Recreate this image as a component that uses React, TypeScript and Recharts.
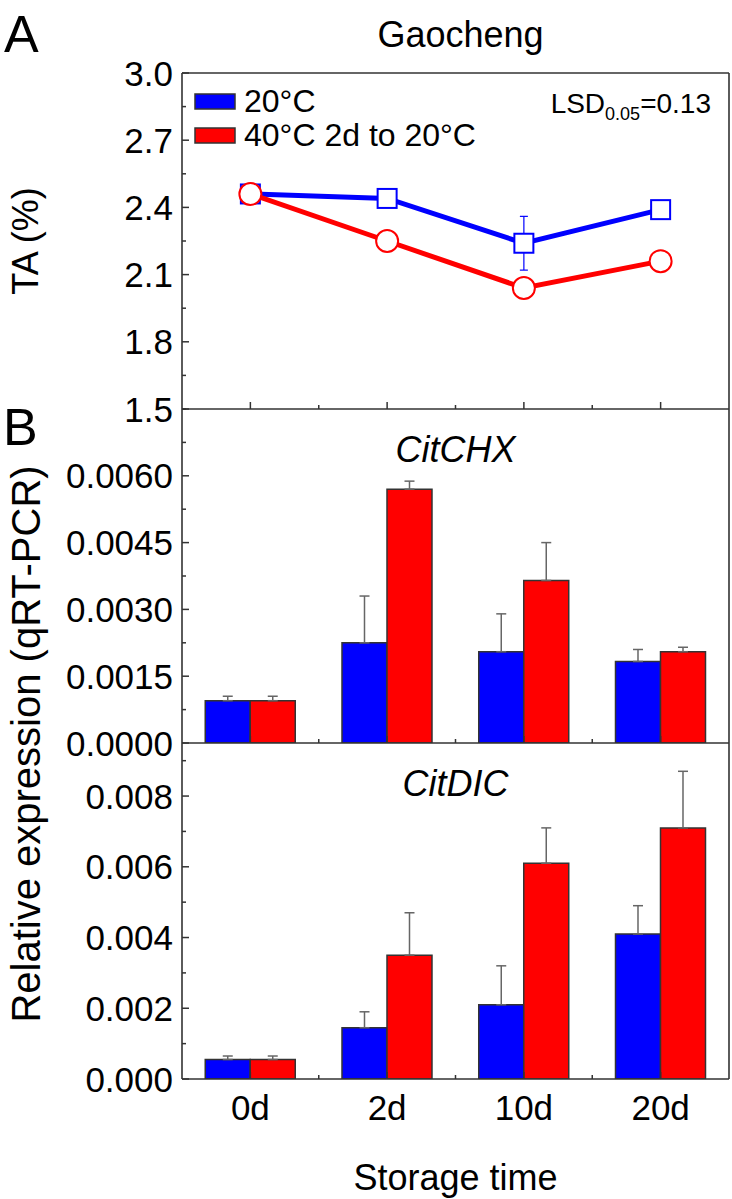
import React from "react";
import { ComposedChart, Line, Bar, XAxis, YAxis, ErrorBar } from "recharts";

const W = 732;
const H = 1199;
const FONT = "'Liberation Sans', Arial, sans-serif";
const AXIS = "#333";

const days = ["0d", "2d", "10d", "20d"];
const seriesNames = ["20°C", "40°C 2d to 20°C"];
const seriesColors = ["#0000ff", "#ff0000"];

// TA (%)
const taControl = [2.46, 2.44, 2.24, 2.39];
const taControlErr = [0.02, 0.015, 0.12, 0.012];
const taHeat = [2.46, 2.25, 2.04, 2.16];
const taHeatErr = [0.03, 0.015, 0.01, 0.035];

// CitCHX
const chxControl = [0.00095, 0.00225, 0.00205, 0.00183];
const chxControlErr = [0.0001, 0.00105, 0.00085, 0.00027];
const chxHeat = [0.00095, 0.0057, 0.00365, 0.00205];
const chxHeatErr = [0.0001, 0.00018, 0.00085, 0.0001];

// CitDIC
const dicControl = [0.00055, 0.00145, 0.0021, 0.0041];
const dicControlErr = [0.0001, 0.00045, 0.0011, 0.0008];
const dicHeat = [0.00055, 0.0035, 0.0061, 0.0071];
const dicHeatErr = [0.0001, 0.0012, 0.001, 0.0016];

const taTicks = [1.5, 1.65, 1.8, 1.95, 2.1, 2.25, 2.4, 2.55, 2.7, 2.85, 3.0];
const taLabels = [1.5, 1.8, 2.1, 2.4, 2.7, 3.0];
const chxTicks = [0, 0.00075, 0.0015, 0.00225, 0.003, 0.00375, 0.0045, 0.00525, 0.006, 0.00675, 0.0075];
const chxLabels = [0, 0.0015, 0.003, 0.0045, 0.006];
const dicTicks = [0, 0.001, 0.002, 0.003, 0.004, 0.005, 0.006, 0.007, 0.008, 0.009];
const dicLabels = [0, 0.002, 0.004, 0.006, 0.008];

const taData = days.map((day, i) => ({
  day,
  control: taControl[i],
  controlErr: taControlErr[i],
  heat: taHeat[i],
  heatErr: taHeatErr[i],
}));

const makeBars = (c: number[], ce: number[], h: number[], he: number[]) =>
  days.map((day, i) => ({ day, control: c[i], controlErr: [0, ce[i]], heat: h[i], heatErr: [0, he[i]] }));

const chxData = makeBars(chxControl, chxControlErr, chxHeat, chxHeatErr);
const dicData = makeBars(dicControl, dicControlErr, dicHeat, dicHeatErr);

// plot box
const LEFT = 182;
const RIGHT = 729;
const panelA = [73, 409];
const panelB = [409, 743];
const panelC = [743, 1079];
const Y_W = 60;

const axisLine = { stroke: AXIS, strokeWidth: 1.6 };

const YTick = (props: any) => {
  const { x, y, payload, labels, digits } = props;
  const major = labels.some((v: number) => Math.abs(v - payload.value) < 1e-9);
  return (
    <g>
      <line x1={x} x2={x + (major ? 7 : 4)} y1={y} y2={y} stroke={AXIS} strokeWidth={1.5} />
      {major && (
        <text x={x - 9} y={y} dy="0.36em" textAnchor="end" fontSize={35} fontFamily={FONT} fill="#000">
          {Number(payload.value).toFixed(digits)}
        </text>
      )}
    </g>
  );
};

const XTick = (props: any) => {
  const { x, y, payload, width, visibleTicksCount, showLabel } = props;
  const half = width && visibleTicksCount ? width / visibleTicksCount / 2 : 0;
  return (
    <g>
      <line x1={x} x2={x} y1={y} y2={y - 7} stroke={AXIS} strokeWidth={1.5} />
      {payload.index > 0 && half > 0 && (
        <line x1={x - half} x2={x - half} y1={y} y2={y - 4} stroke={AXIS} strokeWidth={1.5} />
      )}
      {showLabel && (
        <text x={x} y={y + 41} textAnchor="middle" fontSize={35} fontFamily={FONT} fill="#000">
          {payload.value}
        </text>
      )}
    </g>
  );
};

const SquareDot = (color: string) => (props: any) => {
  const { cx, cy, index } = props;
  if (cx == null || cy == null) return <g key={index} />;
  return <rect key={index} x={cx - 9.5} y={cy - 9.5} width={19} height={19} fill="#fff" stroke={color} strokeWidth={2} />;
};

const CircleDot = (color: string) => (props: any) => {
  const { cx, cy, index } = props;
  if (cx == null || cy == null) return <g key={index} />;
  return <circle key={index} cx={cx} cy={cy} r={11} fill="#fff" stroke={color} strokeWidth={2} />;
};

const margins = (p: number[], withTop: boolean) => ({
  top: p[0] - (withTop ? 1 : 0),
  bottom: H - p[1] - 1,
  left: LEFT - Y_W,
  right: W - RIGHT - 1,
});

function TAChart() {
  return (
    <ComposedChart width={W} height={H} data={taData} margin={margins(panelA, true)}>
      <XAxis dataKey="day" scale="band" height={1} tickSize={0} tickMargin={0} tickLine={false} interval={0}
        axisLine={axisLine} tick={<XTick showLabel={false} />} />
      <XAxis xAxisId="top" orientation="top" dataKey="day" scale="band" height={1} tick={false} tickLine={false}
        axisLine={axisLine} />
      <YAxis domain={[1.5, 3.0]} ticks={taTicks} interval={0} width={Y_W} tickSize={0} tickMargin={0} tickLine={false}
        axisLine={axisLine} tick={<YTick labels={taLabels} digits={1} />} />
      <YAxis yAxisId="right" orientation="right" width={1} tick={false} tickLine={false} axisLine={axisLine} />
      <Line dataKey="control" stroke={seriesColors[0]} strokeWidth={5} dot={SquareDot(seriesColors[0])} isAnimationActive={false} />
      <Line dataKey="heat" stroke={seriesColors[1]} strokeWidth={5} dot={CircleDot(seriesColors[1])} isAnimationActive={false} />
      <Line dataKey="control" stroke="none" dot={false} activeDot={false} isAnimationActive={false}>
        <ErrorBar dataKey="controlErr" direction="y" width={4} stroke={seriesColors[0]} strokeWidth={1.2} isAnimationActive={false} />
      </Line>
      <Line dataKey="heat" stroke="none" dot={false} activeDot={false} isAnimationActive={false}>
        <ErrorBar dataKey="heatErr" direction="y" width={4} stroke={seriesColors[1]} strokeWidth={1.2} isAnimationActive={false} />
      </Line>
    </ComposedChart>
  );
}

function BarPanel({ data, panel, domain, ticks, labels, digits, showX }: any) {
  return (
    <ComposedChart width={W} height={H} data={data} margin={margins(panel, false)} barCategoryGap="17%" barGap={0}>
      <XAxis dataKey="day" height={1} tickSize={0} tickMargin={0} tickLine={false} interval={0}
        axisLine={axisLine} tick={<XTick showLabel={showX} />} />
      <YAxis domain={domain} ticks={ticks} interval={0} width={Y_W} tickSize={0} tickMargin={0} tickLine={false}
        allowDataOverflow axisLine={axisLine} tick={<YTick labels={labels} digits={digits} />} />
      <YAxis yAxisId="right" orientation="right" width={1} tick={false} tickLine={false} axisLine={axisLine} />
      <Bar dataKey="control" fill={seriesColors[0]} stroke={AXIS} strokeWidth={1.5} isAnimationActive={false}>
        <ErrorBar dataKey="controlErr" direction="y" width={5} stroke="#666" strokeWidth={1.5} isAnimationActive={false} />
      </Bar>
      <Bar dataKey="heat" fill={seriesColors[1]} stroke={AXIS} strokeWidth={1.5} isAnimationActive={false}>
        <ErrorBar dataKey="heatErr" direction="y" width={5} stroke="#666" strokeWidth={1.5} isAnimationActive={false} />
      </Bar>
    </ComposedChart>
  );
}

function Annotations() {
  const midX = (LEFT + RIGHT) / 2;
  return (
    <svg width={W} height={H} style={{ position: "absolute", left: 0, top: 0, pointerEvents: "none" }} fontFamily={FONT}>
      <text x={4} y={52} fontSize={52}>A</text>
      <text x={3} y={445} fontSize={52}>B</text>
      <text x={midX + 5} y={47} fontSize={36} textAnchor="middle">Gaocheng</text>
      <text x={midX} y={462} fontSize={36} textAnchor="middle" fontStyle="italic">CitCHX</text>
      <text x={midX} y={796} fontSize={36} textAnchor="middle" fontStyle="italic">CitDIC</text>
      <text x={midX} y={1190} fontSize={36} textAnchor="middle">Storage time</text>
      <text transform={`translate(38, ${(panelA[0] + panelA[1]) / 2}) rotate(-90)`} fontSize={36} textAnchor="middle">TA (%)</text>
      <text transform={`translate(40, ${(panelB[0] + panelC[1]) / 2}) rotate(-90)`} fontSize={40} textAnchor="middle">
        Relative expression (qRT-PCR)
      </text>
      {seriesNames.map((name, i) => (
        <g key={name}>
          <rect x={195} y={94 + i * 34} width={40} height={15} fill={seriesColors[i]} stroke={AXIS} strokeWidth={1.5} />
          <text x={244} y={112 + i * 34} fontSize={32}>{name}</text>
        </g>
      ))}
      <text x={711} y={113} fontSize={28} textAnchor="end">
        LSD<tspan fontSize={18} dy={7}>0.05</tspan><tspan dy={-7}>=0.13</tspan>
      </text>
    </svg>
  );
}

export default function App() {
  return (
    <div style={{ position: "absolute", left: 0, top: 0, width: W, height: H, background: "#fff" }}>
      <div style={{ position: "absolute", left: 0, top: 0 }}>
        <TAChart />
      </div>
      <div style={{ position: "absolute", left: 0, top: 0 }}>
        <BarPanel data={chxData} panel={panelB} domain={[0, 0.0075]} ticks={chxTicks} labels={chxLabels} digits={4} showX={false} />
      </div>
      <div style={{ position: "absolute", left: 0, top: 0 }}>
        <BarPanel data={dicData} panel={panelC} domain={[0, 0.0095]} ticks={dicTicks} labels={dicLabels} digits={3} showX={true} />
      </div>
      <Annotations />
    </div>
  );
}
